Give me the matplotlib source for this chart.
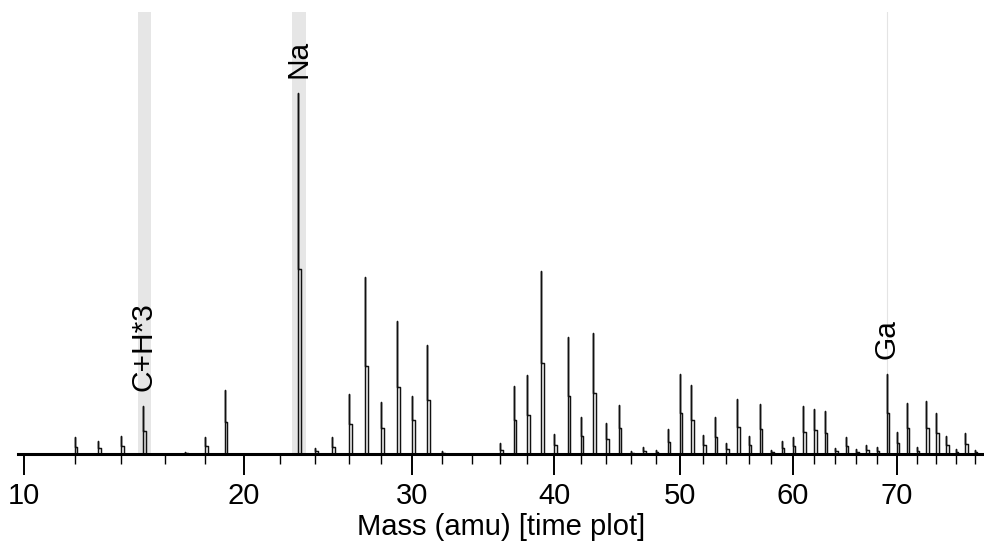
import numpy as np
import matplotlib
matplotlib.use("Agg")
import matplotlib.pyplot as plt
from matplotlib.ticker import FixedLocator

plt.rcParams["font.family"] = ["Liberation Sans", "DejaVu Sans"]

# peak list; heights in % of the Na peak
mass = [12, 13, 14, 15, 17, 18, 19, 23, 24, 25, 26, 27, 28, 29, 30, 31, 32,
        36, 37, 38, 39, 40, 41, 42, 43, 44, 45, 46, 47, 48, 49, 50, 51, 52,
        53, 54, 55, 56, 57, 58, 59, 60, 61, 62, 63, 64, 65, 66, 67, 68, 69,
        70, 71, 72, 73, 74, 75, 76, 77, 78]
height = [4.7, 3.6, 5.0, 13.3, 0.6, 4.7, 17.7, 100.0, 1.7, 4.7, 16.6, 49.0,
          14.4, 36.8, 16.1, 30.2, 0.8, 3.0, 18.8, 21.9, 50.7, 5.5, 32.4, 10.2,
          33.5, 8.6, 13.6, 0.8, 1.9, 1.1, 6.9, 22.2, 19.1, 5.3, 10.2, 3.0,
          15.2, 5.0, 13.9, 1.1, 3.6, 4.7, 13.3, 12.5, 11.9, 1.7, 4.7, 1.4,
          2.5, 1.9, 22.2, 6.1, 14.1, 1.9, 14.7, 11.4, 5.0, 1.4, 5.8, 1.1]
# height of the broad lower part of each peak
shoulder = [1.9, 1.7, 2.2, 6.4, 0.3, 2.2, 8.9, 51.2, 0.8, 1.9, 8.3, 24.4,
            7.2, 18.6, 9.4, 15.0, 0.3, 1.1, 9.4, 10.8, 25.2, 2.5, 16.1, 5.0,
            16.9, 4.2, 7.2, 0.3, 0.8, 0.6, 3.3, 11.4, 9.4, 2.5, 4.7, 1.4,
            7.5, 2.5, 6.9, 0.6, 1.7, 2.2, 6.1, 6.6, 5.8, 0.8, 2.2, 0.6,
            1.1, 0.8, 11.4, 3.0, 7.2, 0.8, 7.2, 5.8, 2.5, 0.6, 2.8, 0.6]

# identified species and their mass windows
ids = ["C+H*3", "Na", "Ga"]
id_mass = [15, 23, 69]
win_lo = [14.75, 22.64, 68.97]
win_hi = [15.35, 23.47, 69.03]

major = [10, 20, 30, 40, 50, 60, 70]
minor = [m for m in range(12, 80, 2) if m % 10]

fwd, inv = np.sqrt, np.square
bw = 0.016  # width of a peak body, in sqrt(mass) units

fig = plt.figure(figsize=(9.84, 5.42), dpi=100)
ax = fig.add_axes([18/984, 88/542, 1 - 18/984, 442/542])
ax.set_xscale("function", functions=(fwd, inv))
ax.set_xlim(9.77, 78.98)
ax.set_ylim(0, 122.4)

for lo, hi in zip(win_lo, win_hi):
    if hi - lo < 0.1:
        ax.axvline((lo+hi)/2, color="#e4e4e4", lw=0.8, zorder=0)
    else:
        ax.axvspan(lo, hi, color="#e6e6e6", lw=0, zorder=0)

# spike on the left edge, narrow hollow body to its right
xs, ys = [], []
for m, h, b in zip(mass, height, shoulder):
    mr = inv(fwd(m) + bw)
    xs += [m, m, m, mr, mr, np.nan]
    ys += [0, h, b, b, 0, np.nan]
ax.plot(xs, ys, color="#111111", lw=1.05, zorder=2)

for nm, m in zip(ids, id_mass):
    h = height[mass.index(m)]
    ax.annotate(nm, (m, h), xytext=(0, 11), textcoords="offset points",
                rotation=90, ha="center", va="bottom", fontsize=21.5)

for s in ["left", "right", "top"]:
    ax.spines[s].set_visible(False)
ax.spines["bottom"].set_linewidth(2.2)
ax.set_yticks([])
ax.xaxis.set_major_locator(FixedLocator(major))
ax.xaxis.set_minor_locator(FixedLocator(minor))
ax.set_xticklabels([str(m) for m in major])
ax.tick_params(axis="x", which="major", length=15, width=1.4, pad=5, labelsize=21)
ax.tick_params(axis="x", which="minor", length=7, width=1.0)
ax.set_xlabel("Mass (amu) [time plot]", fontsize=21, labelpad=2)

fig.savefig("out.png", dpi=100)
